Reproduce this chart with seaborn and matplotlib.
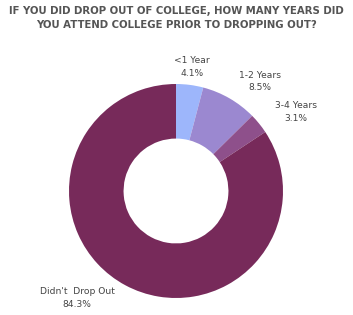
import matplotlib
matplotlib.use("Agg")
import matplotlib.pyplot as plt
import seaborn as sns
import numpy as np

categories = ["<1 Year", "1-2 Years", "3-4 Years", "Didn't  Drop Out"]
values = [4.1, 8.5, 3.1, 84.3]
colors = ["#9db6fb", "#9b88d0", "#8e508b", "#772a5a"]
# label placement (polar: angle in degrees, distance in radii)
label_polar = [(82.6, 1.17), (52.4, 1.29), (33.4, 1.34), (227.2, 1.36)]

sns.set_theme(style="white")
plt.rcParams['font.family'] = ['DejaVu Sans']

W, H = 353, 315
fig = plt.figure(figsize=(W / 100, H / 100), dpi=100)
ax = fig.add_axes([0, 0, 1, 1])

wedges, _ = ax.pie(values, colors=colors, startangle=90, counterclock=False,
                   wedgeprops=dict(width=0.51, linewidth=0))

R = 107.0
cx, cy = 176.0, 315 - 191.0
ax.set_xlim(-cx / R, (W - cx) / R)
ax.set_ylim(-cy / R, (H - cy) / R)
ax.set_aspect('equal', adjustable='box')
ax.axis('off')

for cat, v, (ang, dist) in zip(categories, values, label_polar):
    a = np.deg2rad(ang)
    ax.text(dist * np.cos(a), dist * np.sin(a), f"{cat}\n{v:.1f}%",
            ha='center', va='center', fontsize=6.6, color='#444444',
            linespacing=1.5)

title_font = dict(ha='center', va='center', fontsize=7.3, fontweight='bold',
                  color='#555555')
fig.text(0.5, 1 - 11 / H, "IF YOU DID DROP OUT OF COLLEGE, HOW MANY YEARS DID", **title_font)
fig.text(0.5, 1 - 25 / H, "YOU ATTEND COLLEGE PRIOR TO DROPPING OUT?", **title_font)

fig.savefig("out.png", dpi=100)
